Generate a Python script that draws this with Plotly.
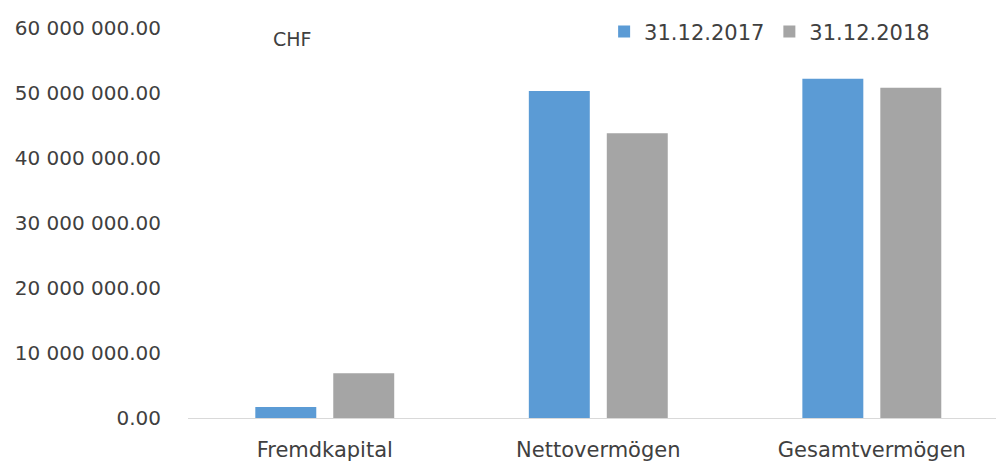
import plotly.graph_objects as go

categories = ["Fremdkapital", "Nettovermögen", "Gesamtvermögen"]
series_names = ["31.12.2017", "31.12.2018"]
values_2017 = [1_700_000, 50_300_000, 52_200_000]
values_2018 = [6_900_000, 43_800_000, 50_800_000]
tick_values = [0, 10_000_000, 20_000_000, 30_000_000, 40_000_000, 50_000_000, 60_000_000]
tick_labels = ["0.00", "10 000 000.00", "20 000 000.00", "30 000 000.00",
               "40 000 000.00", "50 000 000.00", "60 000 000.00"]
unit_label = "CHF"

BLUE = "#5B9BD5"
GRAY = "#A5A5A5"
TEXT = "#404040"
FONT = "DejaVu Sans"

fig = go.Figure()
fig.add_trace(go.Bar(x=categories, y=values_2017, name=series_names[0],
                     marker=dict(color=BLUE, line=dict(width=0))))
fig.add_trace(go.Bar(x=categories, y=values_2018, name=series_names[1],
                     marker=dict(color=GRAY, line=dict(width=0))))

fig.update_layout(
    width=996, height=462,
    margin=dict(l=188, r=0, t=28, b=44, pad=0, autoexpand=False),
    paper_bgcolor="white", plot_bgcolor="white",
    barmode="group", bargap=0.43, bargroupgap=0.218,
    font=dict(family=FONT, size=20, color=TEXT),
    showlegend=True,
    legend=dict(orientation="h", x=0.515, xanchor="left", y=0.99, yanchor="middle",
                font=dict(family=FONT, size=21, color=TEXT),
                itemwidth=30, bgcolor="rgba(0,0,0,0)", traceorder="normal"),
    xaxis=dict(range=[-0.5, 2.454], showline=True, linecolor="#D9D9D9", linewidth=1,
               showgrid=False, zeroline=False, ticks="", ticklabelstandoff=13,
               automargin=False,
               tickfont=dict(family=FONT, size=21, color=TEXT)),
    yaxis=dict(range=[0, 60_000_000], tickvals=tick_values, ticktext=tick_labels,
               showgrid=False, zeroline=False, showline=False, ticks="",
               ticklabelstandoff=26, automargin=False,
               tickfont=dict(family=FONT, size=20, color=TEXT)),
    annotations=[dict(text=unit_label, x=(292 - 188) / 808, y=1 - (39 - 28) / 390,
                      xref="paper", yref="paper", xanchor="center", yanchor="middle",
                      showarrow=False, font=dict(family=FONT, size=19, color=TEXT))],
)

fig.write_html("out.html")
